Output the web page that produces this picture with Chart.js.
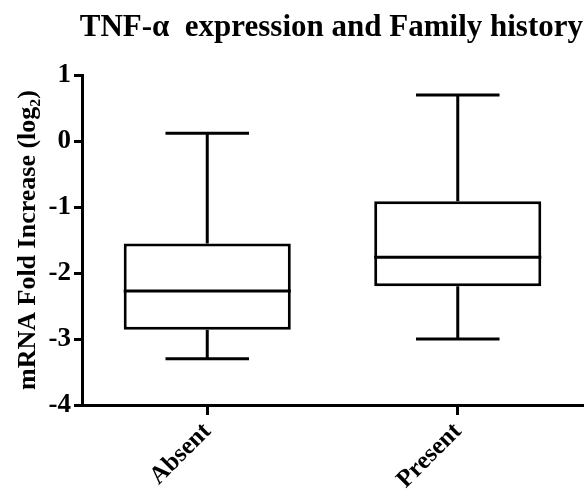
<!DOCTYPE html>
<html>
<head>
<meta charset="utf-8">
<script src="https://cdn.jsdelivr.net/npm/chart.js@4/dist/chart.umd.min.js"></script>
<style>
  html, body { margin: 0; padding: 0; background: #fff; }
  #wrap { width: 587px; height: 489px; }
</style>
</head>
<body>
<div id="wrap"><canvas id="boxChart"></canvas></div>
<script>
// ---- data ----
const categories = ["Absent", "Present"];
const whiskerLow = [-3.30, -3.00];
const q1 = [-2.86, -2.20];
const median = [-2.27, -1.76];
const q3 = [-1.55, -0.91];
const whiskerHigh = [0.12, 0.70];
const yTicks = [-4, -3, -2, -1, 0, 1];

const serif = "'Liberation Serif', 'Times New Roman', serif";

// --- whiskers + median, drawn on top of the floating bars ---
const boxPlugin = {
  id: "boxExtras",
  afterDatasetsDraw(chart) {
    const ctx = chart.ctx;
    const xs = chart.scales.x;
    const ys = chart.scales.y;
    const meta = chart.getDatasetMeta(0);
    ctx.save();
    ctx.strokeStyle = "#000";
    ctx.lineWidth = 3;
    ctx.lineCap = "butt";
    categories.forEach((c, i) => {
      const bar = meta.data[i];
      const half = bar.width / 2;
      const cx = xs.getPixelForValue(i);
      const cap = half / 2;
      const yLo = ys.getPixelForValue(whiskerLow[i]);
      const yQ1 = ys.getPixelForValue(q1[i]);
      const yMed = ys.getPixelForValue(median[i]);
      const yQ3 = ys.getPixelForValue(q3[i]);
      const yHi = ys.getPixelForValue(whiskerHigh[i]);

      ctx.beginPath();
      // upper whisker
      ctx.moveTo(cx, yQ3); ctx.lineTo(cx, yHi);
      ctx.moveTo(cx - cap, yHi); ctx.lineTo(cx + cap, yHi);
      // lower whisker
      ctx.moveTo(cx, yQ1); ctx.lineTo(cx, yLo);
      ctx.moveTo(cx - cap, yLo); ctx.lineTo(cx + cap, yLo);
      // median
      ctx.moveTo(cx - half, yMed); ctx.lineTo(cx + half, yMed);
      ctx.stroke();
    });
    ctx.restore();
  }
};

new Chart(document.getElementById("boxChart"), {
  type: "bar",
  data: {
    labels: categories,
    datasets: [{
      data: categories.map((c, i) => [q1[i], q3[i]]),
      backgroundColor: "#fff",
      borderColor: "#000",
      borderWidth: 3,
      borderSkipped: false,
      categoryPercentage: 1,
      barPercentage: 0.667
    }]
  },
  options: {
    responsive: true,
    maintainAspectRatio: false,
    animation: false,
    layout: { padding: { left: 0, right: 4, top: 0, bottom: 0 } },
    plugins: {
      legend: { display: false },
      tooltip: { enabled: false },
      title: {
        display: true,
        text: "TNF-\u03b1  expression and Family history",
        align: "end",
        color: "#000",
        font: { family: serif, size: 31, weight: "bold" },
        padding: { top: 9, bottom: 29 }
      }
    },
    scales: {
      x: {
        type: "category",
        offset: true,
        afterFit: (s) => { s.height = 84; },
        grid: {
          offset: false,
          drawOnChartArea: false,
          drawTicks: true,
          tickLength: 10,
          tickWidth: 3,
          tickColor: "#000"
        },
        border: { display: true, color: "#000", width: 3 },
        ticks: {
          color: "#000",
          minRotation: 45,
          maxRotation: 45,
          padding: 2,
          font: { family: serif, size: 25, weight: "bold" }
        }
      },
      y: {
        min: -4,
        max: 1,
        afterFit: (s) => { s.width = 82; },
        afterBuildTicks: (s) => { s.ticks = yTicks.map(v => ({ value: v })); },
        grid: {
          drawOnChartArea: false,
          drawTicks: true,
          tickLength: 8,
          tickWidth: 3,
          tickColor: "#000"
        },
        border: { display: true, color: "#000", width: 3 },
        ticks: {
          color: "#000",
          padding: 3,
          font: { family: serif, size: 27, weight: "bold" }
        },
        title: {
          display: true,
          text: "mRNA Fold Increase (log\u2082)",
          color: "#000",
          padding: { top: 13, bottom: 4 },
          font: { family: serif, size: 26, weight: "bold" }
        }
      }
    }
  },
  plugins: [boxPlugin]
});
</script>
</body>
</html>
